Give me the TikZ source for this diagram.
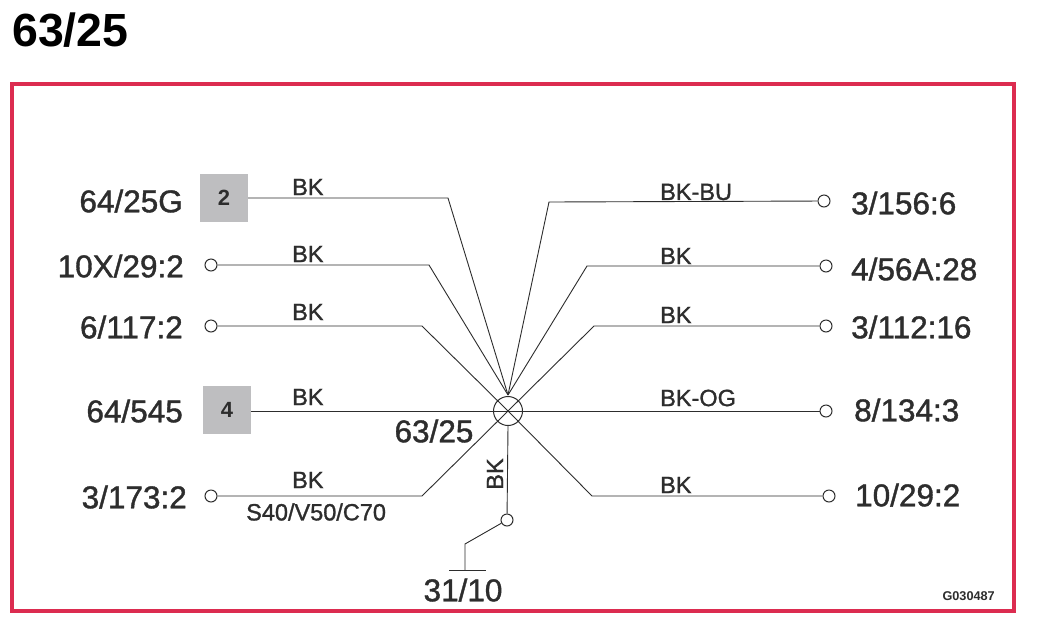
\documentclass[tikz,border=0pt]{standalone}
\usepackage{fontspec}
\setmainfont{Liberation Sans}
\newfontfamily\heavyfont[FakeBold=1.2]{Liberation Sans}
\definecolor{frameRed}{RGB}{220,44,80}
\definecolor{ink}{RGB}{45,45,45}
\definecolor{boxGrey}{RGB}{190,190,192}
\tikzset{
  wire/.style={draw=ink,line width=0.9pt},
  term/.style={circle,draw=ink,fill=white,line width=1pt,minimum size=12pt,inner sep=0pt},
  gbox/.style={fill=boxGrey,minimum size=48pt,inner sep=0pt,text=ink,font=\bfseries\fontsize{22}{22}\selectfont},
  big/.style={text=ink,inner sep=0pt,font=\heavyfont\fontsize{31.5}{31.5}\selectfont},
  col/.style={text=ink,inner sep=0pt,font=\heavyfont\fontsize{23.5}{23.5}\selectfont},
}
\begin{document}
\begin{tikzpicture}[x=1pt,y=-1pt]
\useasboundingbox (0,0) rectangle (1038,630);
\fill[white] (0,0) rectangle (1038,630);
\node[inner sep=0pt,anchor=base west,font=\bfseries\fontsize{46.5}{46.5}\selectfont] (title) at (12,46) {63/25};
\draw[frameRed,line width=4pt] (12,83.5) rectangle (1014,611);

\coordinate (top) at (508,395);
\coordinate (hubc) at (508,411);
% bends
\coordinate (b1) at (448,198); \coordinate (b2) at (429,265); \coordinate (b3) at (422,326);
\coordinate (b5) at (422,496); \coordinate (r1) at (549,202); \coordinate (r2) at (587,266);
\coordinate (r3) at (594,326); \coordinate (r5) at (592,496);
% ends
\node[gbox] (box2) at (224,198) {2};
\node[gbox] (box4) at (227,410) {4};
\node[term] (t2) at (211,265) {};
\node[term] (t3) at (211,326) {};
\node[term] (t5) at (211,496) {};
\node[term] (e1) at (824,201) {};
\node[term] (e2) at (826,266) {};
\node[term] (e3) at (826,326) {};
\node[term] (e4) at (826,411) {};
\node[term] (e5) at (829,496) {};
% wires
\draw[wire] (box2.east |- b1) -- (b1) -- (top);
\draw[wire] (t2) -- (b2) -- (top);
\draw[wire] (t3) -- (b3) -- (hubc);
\draw[wire] (box4.east |- hubc) -- (hubc);
\draw[wire] (t5) -- (b5) -- (hubc);
\draw[wire] (e1) -- (r1) -- (top);
\draw[wire] (e2) -- (r2) -- (top);
\draw[wire] (e3) -- (r3) -- (hubc);
\draw[wire] (e4) -- (hubc);
\draw[wire] (e5) -- (r5) -- (hubc);
% hub
\node[circle,draw=ink,line width=1pt,minimum size=29pt,inner sep=0pt] (hub) at (hubc) {};
% ground
\node[term] (g) at (507,520) {};
\coordinate (gb) at (465,544);
\coordinate (gt) at (465,570);
\coordinate (gl) at (449,570);
\coordinate (gr) at (486,570);
\draw[wire] (hub.south) -- (g);
\draw[wire] (g) -- (gb) -- (gt);
\draw[wire] (gl) -- (gr);
% end labels
\node[big,anchor=east] (l1) at (183,201) {64/25G};
\node[big,anchor=east] (l2) at (184,266) {10X/29:2};
\node[big,anchor=east] (l3) at (183,327) {6/117:2};
\node[big,anchor=east] (l4) at (183,411) {64/545};
\node[big,anchor=east] (l5) at (187,497) {3/173:2};
\node[big,anchor=west] (l6) at (851,203) {3/156:6};
\node[big,anchor=west] (l7) at (851,269) {4/56A:28};
\node[big,anchor=west] (l8) at (851,327) {3/112:16};
\node[big,anchor=west] (l9) at (854,410) {8/134:3};
\node[big,anchor=west] (l10) at (855,495) {10/29:2};
\node[big] (hubl) at (434,431) {63/25};
\node[big] (gl2) at (463,590) {31/10};
% wire colours
\node[col,anchor=west] (c1) at (292,187) {BK};
\node[col,anchor=west] (c2) at (292,254) {BK};
\node[col,anchor=west] (c3) at (292,312) {BK};
\node[col,anchor=west] (c4) at (292,397) {BK};
\node[col,anchor=west] (c5) at (292,480) {BK};
\node[col,anchor=west] (c6) at (660,192) {BK-BU};
\node[col,anchor=west] (c7) at (660,256) {BK};
\node[col,anchor=west] (c8) at (660,315) {BK};
\node[col,anchor=west] (c9) at (660,398) {BK-OG};
\node[col,anchor=west] (c10) at (660,485) {BK};
\node[col,rotate=90] (c11) at (495,474) {BK};
\node[text=ink,inner sep=0pt,anchor=west,font=\heavyfont\fontsize{23.5}{23.5}\selectfont] (s) at (246,512) {S40/V50/C70};
\node[text=ink,inner sep=0pt,anchor=east,font=\bfseries\fontsize{12.7}{12.7}\selectfont] (g0) at (995,596) {G030487};
\end{tikzpicture}
\end{document}
